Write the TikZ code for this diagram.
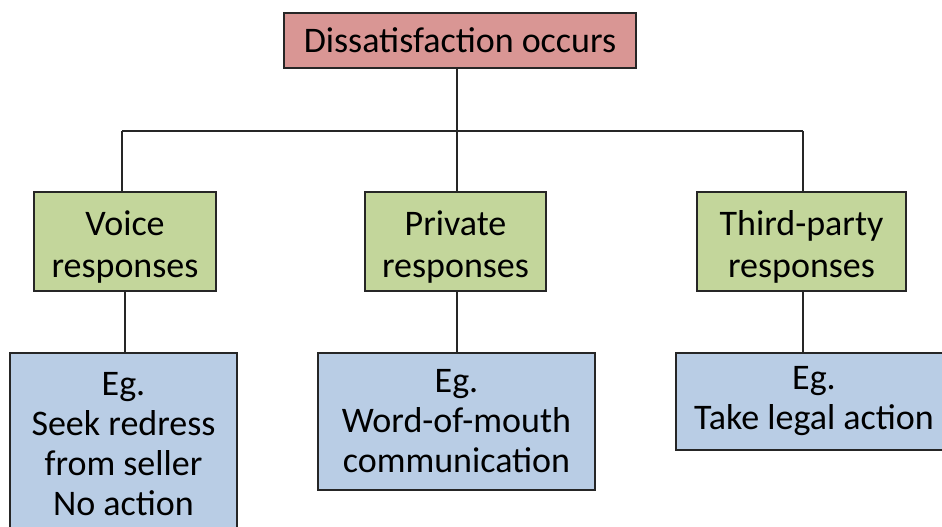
\documentclass[tikz,border=0pt]{standalone}
\usepackage{fontspec}
\setmainfont{Carlito}
\definecolor{causered}{HTML}{D99694}
\definecolor{typegreen}{HTML}{C3D69B}
\definecolor{egblue}{HTML}{B9CDE5}
\newcommand{\topstrut}{\rule{0pt}{17.5pt}}
\begin{document}
\begin{tikzpicture}[
    x=0.5pt, y=-0.5pt,
    box/.style={rectangle, draw=black!85, line width=1pt, align=center, inner sep=0pt, font=\fontsize{18}{21}\selectfont},
    causebox/.style={box, fill=causered, minimum width=176pt, minimum height=27.5pt},
    typebox/.style={box, fill=typegreen, minimum height=49.5pt},
    egbox/.style={box, fill=egblue, font=\fontsize{18}{20}\selectfont},
    link/.style={draw=black!85, line width=0.8pt}
]
\useasboundingbox (0,0) rectangle (942,526);

% === TOP: cause ===
\node[causebox] (cause) at (460, 40.5) {Dissatisfaction occurs};

% === MIDDLE: response types ===
\node[typebox, minimum width=91pt] (voice) at (125, 241.5) {\topstrut Voice\\responses};
\node[typebox, minimum width=90.5pt] (private) at (455.5, 241.5) {\topstrut Private\\responses};
\node[typebox, minimum width=104.5pt] (third) at (801.5, 241.5) {\topstrut Third-party\\responses};

% === BOTTOM: examples ===
\node[egbox, minimum width=113.5pt, minimum height=91pt] (voiceEg) at (123.5, 444) {Eg.\\Seek redress\\from seller\\No action};
\node[egbox, minimum width=138.5pt, minimum height=68.5pt] (privateEg) at (456.5, 421.5) {Eg.\\Word-of-mouth\\communication};
\node[egbox, minimum width=138pt, minimum height=48.5pt] (thirdEg) at (814, 401.5) {Eg.\\Take legal action};

% Tree branches
\coordinate (barL) at (122, 131);
\coordinate (barM) at (457, 131);
\coordinate (barR) at (803, 131);
\draw[link] (barM |- cause.south) -- (barM |- private.north);
\draw[link] (barL) -- (barR);
\draw[link] (barL) -- (barL |- voice.north);
\draw[link] (barR) -- (barR |- third.north);

% Type to example
\draw[link] (voice.south) -- (voice.south |- voiceEg.north);
\draw[link] (barM |- private.south) -- (barM |- privateEg.north);
\draw[link] (barR |- third.south) -- (barR |- thirdEg.north);

\end{tikzpicture}
\end{document}
